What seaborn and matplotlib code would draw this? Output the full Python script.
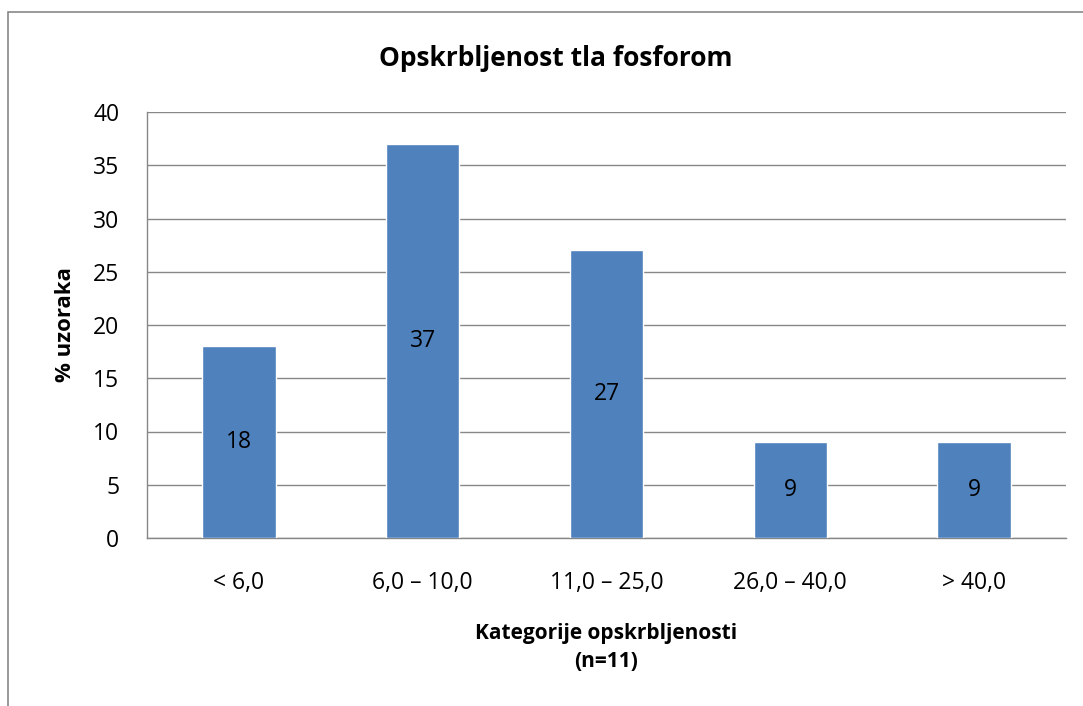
import matplotlib
matplotlib.use("Agg")
import matplotlib.pyplot as plt
import seaborn as sns
import pandas as pd
from matplotlib.patches import Rectangle
from matplotlib.ticker import FixedLocator

categories = ["< 6,0", "6,0 – 10,0", "11,0 – 25,0", "26,0 – 40,0", "> 40,0"]
values = [18, 37, 27, 9, 9]
yticks = [0, 5, 10, 15, 20, 25, 30, 35, 40]

title = "Opskrbljenost tla fosforom"
xlabel = "Kategorije opskrbljenosti\n(n=11)"
ylabel = "% uzoraka"

sns.set_style("white")
plt.rcParams['font.family'] = ['Open Sans', 'DejaVu Sans']
plt.rcParams['text.color'] = 'black'
plt.rcParams['axes.labelcolor'] = 'black'
plt.rcParams['xtick.labelcolor'] = 'black'
plt.rcParams['ytick.labelcolor'] = 'black'

df = pd.DataFrame({"cat": categories, "val": values})

fig = plt.figure(figsize=(10.83, 7.06), dpi=100)
ax = fig.add_axes([147/1083, 1 - 538/706, (1066-147)/1083, (538-112)/706])

sns.barplot(data=df, x="cat", y="val", color="#4F81BD", saturation=1, width=0.4, ax=ax, zorder=3)

ax.set_ylim(0, 40)
ax.set_xlim(-0.5, len(categories) - 0.5)
ax.set_yticks(yticks)
ax.yaxis.grid(True, color="#878787", linewidth=1, zorder=0)
ax.set_axisbelow(True)

for s in ["top", "right"]:
    ax.spines[s].set_visible(False)
for s in ["left", "bottom"]:
    ax.spines[s].set_color("#878787")
    ax.spines[s].set_linewidth(1)

ax.tick_params(axis="y", which="major", direction="out", length=8, color="#878787", labelsize=16.5, pad=12, labelcolor="black")
ax.tick_params(axis="x", which="major", length=0, labelsize=16.5, pad=24, labelcolor="black")
ax.xaxis.set_minor_locator(FixedLocator([i - 0.5 for i in range(len(categories) + 1)]))
ax.tick_params(axis="x", which="minor", direction="out", length=8, color="#878787")

for p, v in zip(ax.patches, values):
    ax.text(p.get_x() + p.get_width() / 2, v / 2, str(v), ha="center", va="center", fontsize=16.5, color="black", zorder=4)

ax.set_xlabel(xlabel, fontsize=15, fontweight="bold", labelpad=20, linespacing=1.45, color="black")
ax.set_ylabel(ylabel, fontsize=16, fontweight="bold", labelpad=12, color="black")
fig.text(556/1083, 1 - 58/706, title, ha="center", va="center", fontsize=19, fontweight="bold", color="black")

fig.patches.append(Rectangle((8/1083, -0.1), 1.2, 1 - 12/706 + 0.1, transform=fig.transFigure,
                             fill=False, edgecolor="#878787", linewidth=1.2))

fig.savefig("out.png", dpi=100)
